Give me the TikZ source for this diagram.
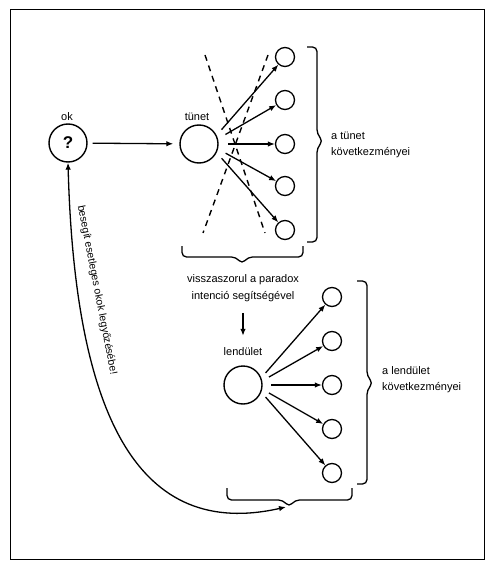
\documentclass[tikz,border=0pt]{standalone}
\usepackage{fontspec}
\setmainfont{Liberation Sans}
\usetikzlibrary{arrows.meta}
\begin{document}
\begin{tikzpicture}[x=1pt,y=-1pt,
  every node/.style={font=\fontsize{11}{16}\selectfont},
  bigc/.style={draw,circle,line width=1.4pt,minimum size=38pt,inner sep=0pt},
  smallc/.style={draw,circle,line width=1.3pt,minimum size=19pt,inner sep=0pt},
  arr/.style={line width=1.3pt,-{Latex[length=7pt,width=5.5pt]}},
  dblarr/.style={line width=1.3pt,{Latex[length=7pt,width=5.5pt]}-{Latex[length=7pt,width=5.5pt]}},
  dashline/.style={line width=1.4pt,dash pattern=on 6pt off 5pt},
  bracestyle/.style={line width=1.3pt,rounded corners=4.5pt},
  lbl/.style={inner sep=0pt}]
\useasboundingbox (0,0) rectangle (489,564);
\draw[line width=1pt] (10,10) rectangle (484,559);

% cause
\node[bigc,font=\fontsize{17}{17}\selectfont\bfseries] (ok) at (68,143) {?};
\node[lbl] (oklab) at (67,117) {ok};

% symptom
\node[bigc] (tunet) at (199,144) {};
\node[lbl] (tunetlab) at (197,117) {tünet};
\foreach \i/\y in {1/57,2/100,3/144,4/186,5/230}
  \node[smallc] (t\i) at (285,\y) {};
\coordinate (tfan) at (209,144);
\foreach \i in {1,...,5}
  \draw[arr,shorten <=19pt] (tfan) -- (t\i);
\draw[arr,shorten <=5pt,shorten >=6pt] (ok) -- (tunet);

% dashed cross
\coordinate (d1a) at (205,55);
\coordinate (d1b) at (265,233);
\coordinate (d2a) at (268,55);
\coordinate (d2b) at (203,233);
\draw[dashline] (d1a) -- (d1b);
\draw[dashline] (d2a) -- (d2b);

% braces of the symptom
\draw[bracestyle] (307,47) -- (317,47) -- (317,134) -- (323,141) -- (317,148) -- (317,242) -- (307,242);
\node[lbl,anchor=west,align=left] (tcons) at (331,145) {a tünet\\következményei};
\draw[bracestyle] (182,246) -- (182,257) -- (236,257) -- (242,264) -- (248,257) -- (303,257) -- (303,246);

\node[lbl,align=center,font=\fontsize{11}{17}\selectfont] (visz) at (243,288) {visszaszorul a paradox\\intenció segítségével};

% momentum
\node[lbl] (lendlab) at (243,352) {lendület};
\draw[arr,shorten <=11pt,shorten >=12pt] (visz) -- (lendlab);
\node[bigc] (lend) at (243,385) {};
\foreach \i/\y in {1/297,2/341,3/385,4/429,5/473}
  \node[smallc] (l\i) at (332,\y) {};
\coordinate (lfan) at (255,385);
\foreach \i in {1,...,5}
  \draw[arr,shorten <=16pt] (lfan) -- (l\i);

\draw[bracestyle] (357,281) -- (367,281) -- (367,376) -- (373,383) -- (367,390) -- (367,484) -- (357,484);
\node[lbl,anchor=west,align=left] (lcons) at (382,380) {a lendület\\következményei};
\draw[bracestyle] (227,488) -- (227,500) -- (283,500) -- (289,507) -- (295,500) -- (352,500) -- (352,488);
\coordinate (lbtip) at (286,507);

% feedback curve
\draw[dblarr] (ok.south) .. controls (75,420) and (140,540) .. (lbtip);
\node[lbl,rotate=-79,font=\fontsize{10.5}{12}\selectfont] (besegit) at (97,290) {besegít esetleges okok legyőzésébe!};
\end{tikzpicture}
\end{document}
